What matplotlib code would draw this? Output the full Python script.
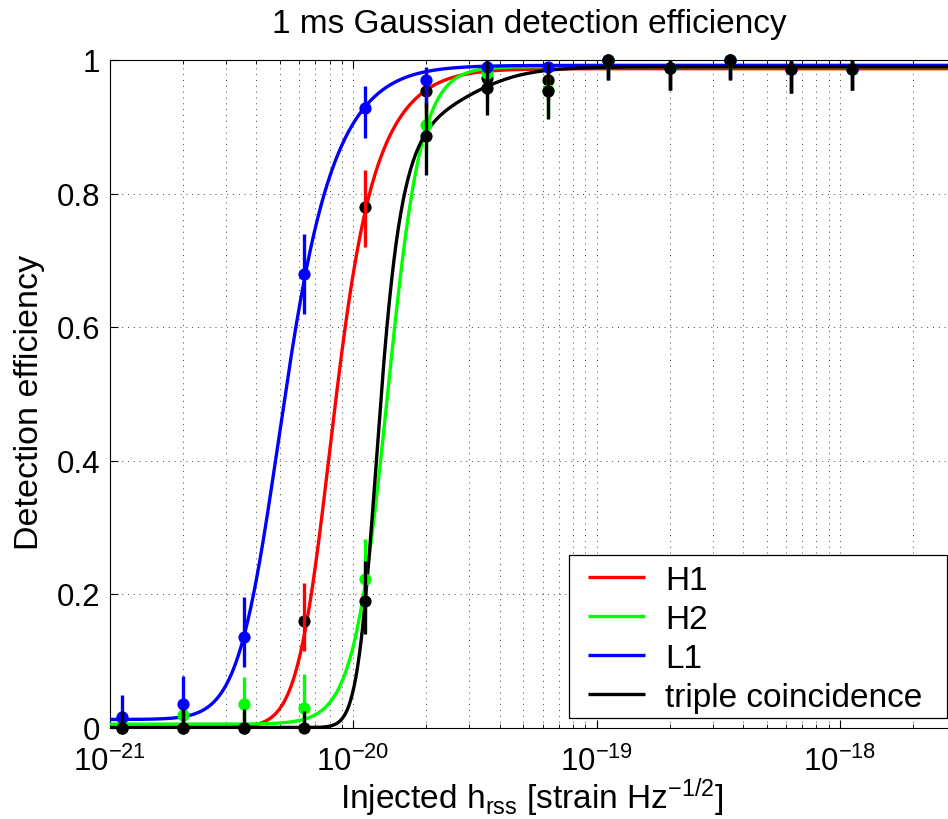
import numpy as np
import matplotlib
matplotlib.use("Agg")
import matplotlib.pyplot as plt
from matplotlib.ticker import LogLocator, FixedLocator, NullFormatter
from matplotlib.patches import Rectangle

plt.rcParams['font.family'] = ['Liberation Sans', 'DejaVu Sans']
plt.rcParams['mathtext.fontset'] = 'custom'
plt.rcParams['mathtext.rm'] = 'Liberation Sans'
plt.rcParams['mathtext.it'] = 'Liberation Sans:italic'
plt.rcParams['mathtext.bf'] = 'Liberation Sans:bold'

# ---------------- data ----------------
h_rss = [1.12e-21, 2.0e-21, 3.55e-21, 6.31e-21, 1.12e-20, 2.0e-20, 3.55e-20,
         6.31e-20, 1.12e-19, 2.0e-19, 3.55e-19, 6.31e-19, 1.12e-18]

labels = ['H1', 'H2', 'L1', 'triple coincidence']
colors = ['#ff0000', '#00ff00', '#0000ff', '#000000']
marker_colors = ['#000000', '#00ff00', '#0000ff', '#000000']

H1_eff = [0.0, 0.0, 0.0, 0.16, 0.78, 0.953, 0.973, 0.970, 1.0, 0.988, 1.0, 0.986, 0.987]
H1_low = [0.0, 0.0, 0.0, 0.115, 0.72, 0.92, 0.94, 0.94, 0.97, 0.955, 0.97, 0.95, 0.955]
H1_high = [0.005, 0.005, 0.005, 0.216, 0.835, 0.98, 0.99, 0.99, 1.0, 1.0, 1.0, 1.0, 1.0]

H2_eff = [0.005, 0.018, 0.035, 0.029, 0.222, 0.903, 0.98, 0.955, 1.0, 0.988, 1.0, 0.986, 0.987]
H2_low = [0.0, 0.0, 0.0, 0.0, 0.165, 0.86, 0.965, 0.913, 0.97, 0.955, 0.97, 0.95, 0.955]
H2_high = [0.02, 0.03, 0.076, 0.08, 0.282, 0.94, 0.995, 0.985, 1.0, 1.0, 1.0, 1.0, 1.0]

L1_eff = [0.015, 0.035, 0.135, 0.68, 0.928, 0.97, 0.99, 0.99, 1.0, 0.988, 1.0, 0.986, 0.987]
L1_low = [0.0, 0.0, 0.091, 0.62, 0.883, 0.93, 0.98, 0.98, 0.97, 0.955, 0.97, 0.95, 0.955]
L1_high = [0.048, 0.077, 0.196, 0.74, 0.961, 0.99, 1.0, 0.997, 1.0, 1.0, 1.0, 1.0, 1.0]

T_eff = [0.0, 0.0, 0.0, 0.0, 0.19, 0.886, 0.958, 0.954, 1.0, 0.988, 1.0, 0.986, 0.987]
T_low = [0.0, 0.0, 0.0, 0.0, 0.14, 0.828, 0.917, 0.912, 0.971, 0.955, 0.971, 0.95, 0.955]
T_high = [0.025, 0.028, 0.028, 0.025, 0.25, 0.935, 1.0, 0.995, 1.03, 1.02, 1.03, 1.02, 1.02]

# sigmoid fit parameters (h50, alpha, beta, floor, ceiling) per curve
fit_h50 = [8.51e-21, 1.384e-20, 5.28e-21, 1.303e-20]
fit_alpha = [9.69, 6.2, 6.88, 24.2]
fit_beta = [-0.60, 0.0, -0.493, -0.864]
fit_floor = [0.0, 0.005, 0.012, 0.0]
fit_ceiling = [0.987, 0.99, 0.992, 0.99]

x_ticks = [1e-21, 1e-20, 1e-19, 1e-18]
y_ticks = [0, 0.2, 0.4, 0.6, 0.8, 1]
y_ticklabels = ['0', '0.2', '0.4', '0.6', '0.8', '1']

title = '1 ms Gaussian detection efficiency'
xlabel = r'Injected h$_{\mathrm{rss}}$ [strain Hz$^{-1/2}$]'
ylabel = 'Detection efficiency'


def eff_model(h, h50, alpha, beta, lo, hi):
    r = h / h50
    expo = alpha * (1.0 + beta * np.tanh(r))
    return lo + (hi - lo) / (1.0 + r ** (-expo))


# ---------------- figure ----------------
W, H = 948, 820
fig = plt.figure(figsize=(W / 100, H / 100), dpi=100)
ax_left, ax_right, ax_top, ax_bottom = 109.7, 948, 61, 728.5
ax = fig.add_axes([ax_left / W, (H - ax_bottom) / H,
                   (ax_right - ax_left) / W, (ax_bottom - ax_top) / H])
ax.set_xscale('log')
ax.set_xlim(1e-21, 10 ** (-21 + (ax_right - ax_left) / 243.4))
ax.set_ylim(0, 1)

hgrid = np.logspace(-21, -17.4, 1500)
lw = 2.4
for i in range(4):
    ax.plot(hgrid, eff_model(hgrid, fit_h50[i], fit_alpha[i], fit_beta[i],
                             fit_floor[i], fit_ceiling[i]),
            color=colors[i], lw=lw, label=labels[i], zorder=3 + i * 0.1,
            solid_capstyle='butt')

series = [(H1_eff, H1_low, H1_high), (H2_eff, H2_low, H2_high),
          (L1_eff, L1_low, L1_high), (T_eff, T_low, T_high)]
z = 5
ms = 8.8
for i, (e, lo, hi) in enumerate(series):
    if i == 0:
        ax.plot(h_rss, e, 'o', color=marker_colors[i], ms=ms, mew=0, zorder=z,
                clip_on=False)
        z += 0.1
        ax.vlines(h_rss, lo, hi, color=colors[i], lw=lw, zorder=z)
        z += 0.1
    else:
        ax.vlines(h_rss, lo, hi, color=colors[i], lw=lw, zorder=z)
        z += 0.1
        ax.plot(h_rss, e, 'o', color=marker_colors[i], ms=ms, mew=0, zorder=z,
                clip_on=False)
        z += 0.1

# grid
grid_kw = dict(color='0.25', lw=0.7, linestyle=(0, (1, 5)))
ax.grid(True, which='major', axis='both', **grid_kw)
ax.grid(True, which='minor', axis='x', **grid_kw)
ax.set_axisbelow(True)

ax.xaxis.set_major_locator(FixedLocator(x_ticks))
ax.xaxis.set_minor_locator(LogLocator(base=10, subs=np.arange(2, 10), numticks=20))
ax.xaxis.set_minor_formatter(NullFormatter())
ax.set_yticks(y_ticks)
ax.set_yticklabels(y_ticklabels)

ax.tick_params(axis='both', which='both', direction='in', top=True, right=False)
ax.tick_params(axis='both', which='major', length=6, width=0.8, labelsize=22.5)
ax.tick_params(axis='x', which='minor', length=3, width=0.6)
ax.tick_params(axis='x', which='major', pad=13)
ax.tick_params(axis='y', which='major', pad=7)
ax.spines['right'].set_visible(False)
for s in ['left', 'top', 'bottom']:
    ax.spines[s].set_linewidth(0.8)

ax.set_title(title, fontsize=24, pad=20)
ax.set_xlabel(xlabel, fontsize=24)
ax.xaxis.set_label_coords(0.504, -0.071)
ax.set_ylabel(ylabel, fontsize=24.5)
ax.yaxis.set_label_coords(-0.077, 0.488)

# legend frame drawn as a rectangle in figure coordinates, entries inside
frame = Rectangle((569 / W, (H - 719) / H), (947 - 569) / W, (719 - 556) / H,
                  transform=fig.transFigure, facecolor='white',
                  edgecolor='black', lw=0.9, zorder=19, clip_on=False)
ax.add_artist(frame)
leg = ax.legend(loc='upper left', bbox_to_anchor=(588 / W, 1 - 566 / H),
                bbox_transform=fig.transFigure, borderaxespad=0, borderpad=0,
                fontsize=24, frameon=False,
                handlelength=1.71, handletextpad=0.6, labelspacing=0.24)
leg.set_zorder(20)
for ln in leg.get_lines():
    ln.set_linewidth(lw)

fig.savefig('out.png', dpi=100)
